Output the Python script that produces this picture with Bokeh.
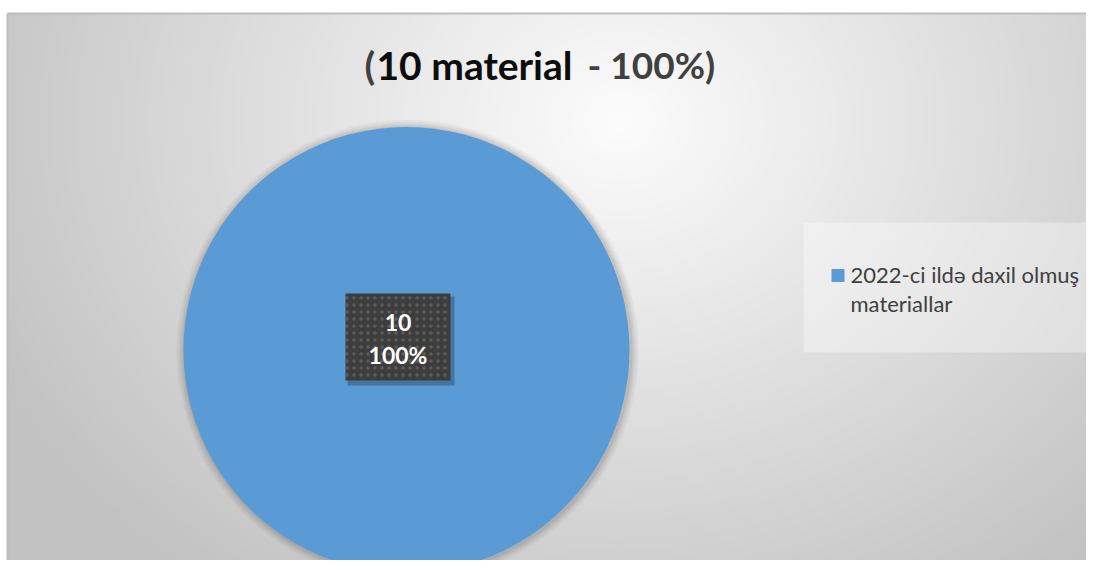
import numpy as np
from bokeh.plotting import figure
from bokeh.models import Range1d, ColumnDataSource
from bokeh.core.properties import value
from bokeh.embed import file_html
from bokeh.resources import INLINE

# ---- data ----
categories = ["2022-ci ildə daxil olmuş materiallar"]
counts = [10]
colors = ["#5B9BD5"]
title_parts = ["(", "10 material", "- 100%)"]

W, H = 1086, 560
p = figure(width=W, height=H, output_backend="svg", toolbar_location=None,
           x_range=Range1d(0, W), y_range=Range1d(0, H), min_border=0)
p.axis.visible = False
p.grid.visible = False
p.outline_line_color = None
p.background_fill_color = "white"
p.border_fill_color = "white"


def fy(py):
    return H - py


# ---- background radial gradient (decorative) ----
left, top_py = 7, 13
nx, ny = 540, 274
xs = np.linspace(left, W, nx)
pys = np.linspace(top_py, H, ny)
X, Y = np.meshgrid(xs, pys)
d = np.sqrt(((X - 620) / 680.0) ** 2 + ((Y - 120) / 560.0) ** 2)
v = np.clip(252 - 56 * d, 194, 252).astype(np.uint32)
img = (255 << 24) | (v << 16) | (v << 8) | v
img = img[::-1].astype(np.uint32)  # row 0 = bottom
p.image_rgba(image=[img], x=left, y=0, dw=W - left, dh=fy(top_py))

# border
p.segment(x0=[left], y0=[fy(top_py)], x1=[W], y1=[fy(top_py)], line_color="#bdbdbd", line_width=2)
p.segment(x0=[left], y0=[0], x1=[left], y1=[fy(top_py)], line_color="#bdbdbd", line_width=2)

# ---- pie ----
cx, cy, r = 406, fy(349.5), 223
total = float(sum(counts))
fracs = [c / total for c in counts]
ends = np.cumsum(fracs)
starts = ends - np.array(fracs)
start_angle = [np.pi / 2 - 2 * np.pi * s for s in starts]
end_angle = [np.pi / 2 - 2 * np.pi * e + 1e-4 for e in ends]

# soft shadow
for k, a in zip([8, 6, 4, 2], [0.03, 0.04, 0.05, 0.06]):
    p.circle(x=[cx + 1], y=[cy - 1], radius=r + k, fill_color="black",
             fill_alpha=a, line_color=None)

src = ColumnDataSource(dict(cat=categories, val=counts, color=colors,
                            start=start_angle, end=end_angle))
p.wedge(x=cx, y=cy, radius=r, start_angle="start", end_angle="end",
        direction="clock", fill_color="color", line_color=None, source=src)

# data label box
bx, by, bw, bh = 397.5, fy(336.5), 105, 87
p.rect(x=[bx + 3], y=[by - 4], width=bw + 2, height=bh + 2, fill_color="black",
       fill_alpha=0.25, line_color=None)
p.rect(x=[bx], y=[by], width=bw, height=bh, fill_color="#3d3d3d", line_color=None,
       hatch_pattern="dot", hatch_color="#5c5c5c", hatch_scale=7, hatch_weight=1.5)
pct = [f"{round(f * 100)}%" for f in fracs]
p.text(x=[bx], y=[fy(321.5)], text=[str(counts[0])], text_font=value("Lato"),
       text_font_style="bold", text_font_size="23px", text_color="white",
       text_align="center", text_baseline="middle")
p.text(x=[bx], y=[fy(354.5)], text=pct, text_font=value("Lato"),
       text_font_style="bold", text_font_size="23px", text_color="white",
       text_align="center", text_baseline="middle")

# ---- title ----
tm = fy(64)
p.text(x=[364], y=[tm], text=[title_parts[0]], text_font=value("Lato"),
       text_font_style="bold", text_font_size="39px", text_color="#404040",
       text_baseline="middle")
p.text(x=[376], y=[tm], text=[title_parts[1]], text_font=value("Lato"),
       text_font_style="bold", text_font_size="39px", text_color="#0d0d0d",
       text_baseline="middle")
p.text(x=[587], y=[tm], text=[title_parts[2]], text_font=value("Lato"),
       text_font_style="bold", text_font_size="37px", text_color="#404040",
       text_baseline="middle")

# ---- legend ----
p.quad(left=[803], right=[1097], bottom=[fy(352)], top=[fy(222)], fill_color="white",
       fill_alpha=0.35, line_color=None)
p.rect(x=[837.5], y=[fy(275)], width=13, height=13, fill_color=colors[0], line_color=None)
l1, l2 = categories[0].rsplit(" ", 1)
p.text(x=[850], y=[fy(274)], text=[l1], text_font=value("Lato"), text_font_size="22px",
       text_color="#404040", text_baseline="middle")
p.text(x=[850], y=[fy(303)], text=[l2], text_font=value("Lato"), text_font_size="22px",
       text_color="#404040", text_baseline="middle")

open("out.html", "w").write(file_html(p, INLINE))
